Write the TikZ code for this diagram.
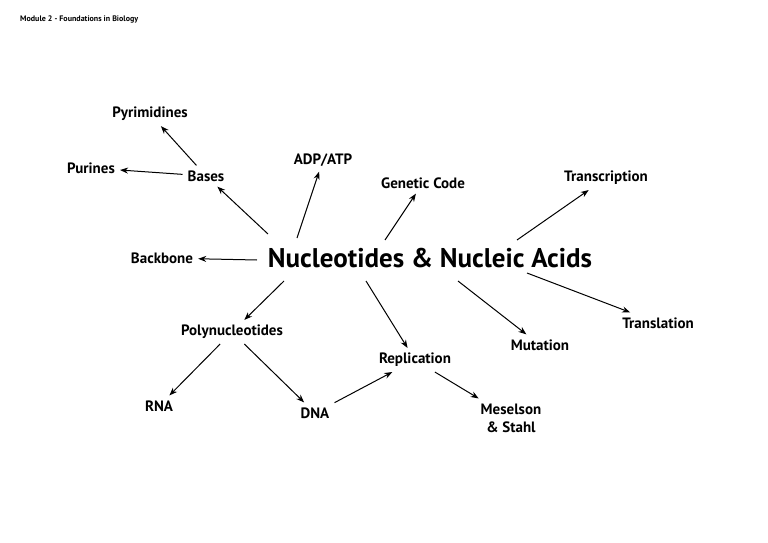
\documentclass[tikz,border=0pt]{standalone}
\usepackage{fontspec}
\setmainfont{PT Sans}
\usetikzlibrary{arrows.meta}
\begin{document}
\begin{tikzpicture}[x=1pt,y=-1pt,
  lab/.style={font=\bfseries\fontsize{15}{17}\selectfont, inner sep=5pt, align=center},
  arr/.style={-{Stealth[length=8pt,width=6pt]}, line width=1pt}]
\useasboundingbox (0,0) rectangle (768,543);
\node[anchor=west, font=\bfseries\fontsize{8}{9}\selectfont, inner sep=0] (t) at (20,19) {Module 2 - Foundations in Biology};
\node[font=\bfseries\fontsize{27}{30}\selectfont, inner sep=0] (m) at (430,258) {Nucleotides \& Nucleic Acids};
\node[lab] (pyr) at (150,114) {Pyrimidines};
\node[lab] (pur) at (91,168) {Purines};
\node[lab] (bas) at (206,176) {Bases};
\node[lab] (adp) at (323,160) {ADP/ATP};
\node[lab] (gen) at (423,183) {Genetic Code};
\node[lab] (trs) at (606,178) {Transcription};
\node[lab] (bb) at (162,258) {Backbone};
\node[lab] (pol) at (232,332) {Polynucleotides};
\node[lab] (rep) at (415,360) {Replication};
\node[lab] (mut) at (540,345) {Mutation};
\node[lab] (trl) at (658,323) {Translation};
\node[lab] (rna) at (159,406) {RNA};
\node[lab] (dna) at (315,413) {DNA};
\node[lab, font=\bfseries\fontsize{15}{18}\selectfont] (ms) at (511,418) {Meselson\\\& Stahl};
\coordinate (m1) at (268,234);
\coordinate (m2) at (297,238);
\coordinate (m3) at (385,240);
\coordinate (m4) at (517,240);
\coordinate (m5) at (257,260);
\coordinate (m6) at (284,281);
\coordinate (m7) at (366,281);
\coordinate (m8) at (458,281);
\coordinate (m9) at (527,273);
\draw[arr] (bas) -- (pyr);
\draw[arr] (bas) -- (pur);
\draw[arr] (m1) -- (bas);
\draw[arr] (m2) -- (adp);
\draw[arr] (m3) -- (gen);
\draw[arr] (m4) -- (trs);
\draw[arr] (m5) -- (bb);
\draw[arr] (m6) -- (pol);
\draw[arr] (m7) -- (rep);
\draw[arr] (m8) -- (mut);
\draw[arr] (m9) -- (trl);
\draw[arr] (pol) -- (rna);
\draw[arr] (pol) -- (dna);
\draw[arr] (dna) -- (rep);
\draw[arr] (rep) -- (ms);
\end{tikzpicture}
\end{document}
